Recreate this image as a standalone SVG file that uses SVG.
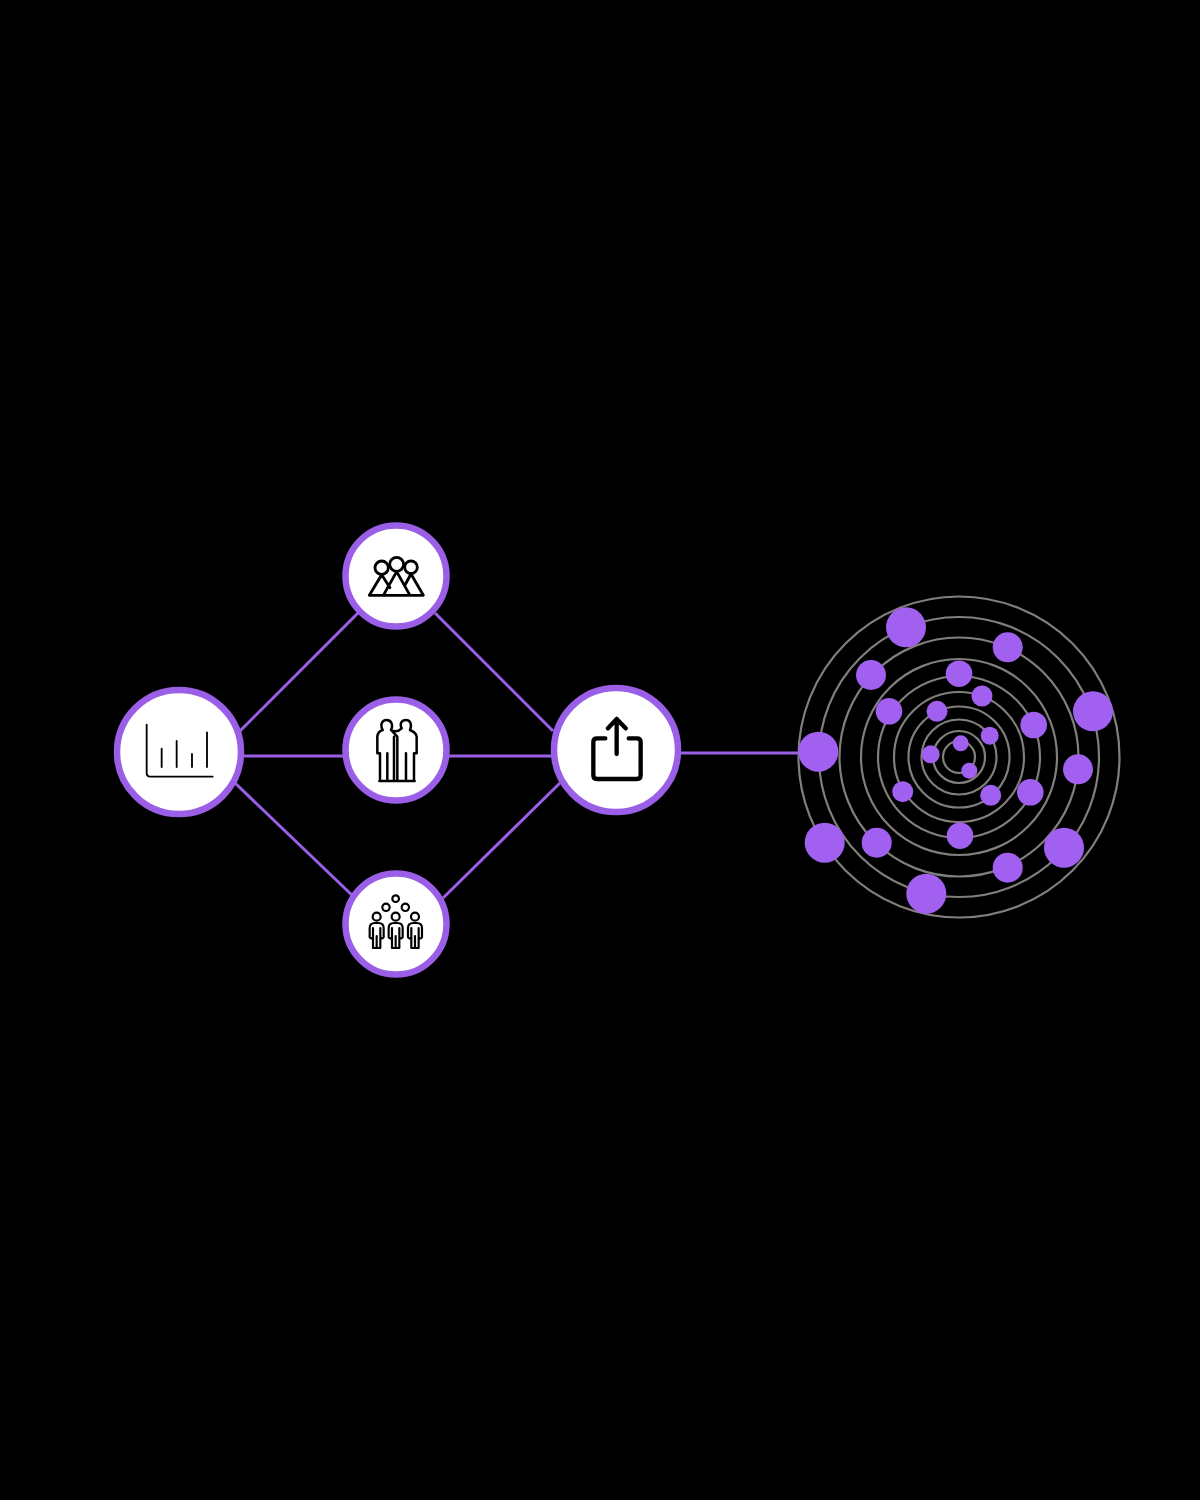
<svg xmlns="http://www.w3.org/2000/svg" xmlns:xlink="http://www.w3.org/1999/xlink" width="1200" height="1500" viewBox="0 0 1200 1500">
<style>
.link{stroke:#9a5fe6;stroke-width:3;fill:none}
.disc{fill:#fff;stroke:#9a5fe6;stroke-width:6.5}
.ico{fill:none;stroke:#000;stroke-linecap:round;stroke-linejoin:round}
.ring{fill:none;stroke:#807f7b;stroke-width:2.2}
.dot{fill:#a160f0}
</style>
<defs>
<g id="person" class="ico" stroke-width="6.5"><circle cx="0" cy="146" r="12"/><path d="M-21,208V180Q-21,165-5,165H5Q21,165 21,180V208Q17,215 11,208V180M-21,208Q-17,215-11,208V180V240H11V180M0,204V240"/></g>
</defs>
<rect width="1200" height="1500" fill="#000"/>
<g id="connectors">
<path class="link" d="M240,731L358,613M435,613L553,731M243,756H345M448,756H553M235,783L355,898M443,898L560,783M680,753H800"/>
</g>
<g id="radar">
<circle class="ring" cx="959" cy="757" r="16"/><circle class="ring" cx="959" cy="757" r="26"/><circle class="ring" cx="959" cy="757" r="37.5"/><circle class="ring" cx="959" cy="757" r="50.5"/><circle class="ring" cx="959" cy="757" r="65"/><circle class="ring" cx="959" cy="757" r="81"/><circle class="ring" cx="959" cy="757" r="98"/><circle class="ring" cx="959" cy="757" r="119.5"/><circle class="ring" cx="959" cy="757" r="140"/><circle class="ring" cx="959" cy="757" r="160.5"/>
<circle class="dot" cx="906" cy="627.3" r="20"/><circle class="dot" cx="1007.7" cy="647.3" r="15"/><circle class="dot" cx="871" cy="675" r="15"/><circle class="dot" cx="959" cy="673.7" r="13.3"/><circle class="dot" cx="982" cy="696" r="10.5"/><circle class="dot" cx="889" cy="711.3" r="13.3"/><circle class="dot" cx="937" cy="711.3" r="10.5"/><circle class="dot" cx="1093" cy="711.3" r="20"/><circle class="dot" cx="1033.7" cy="725" r="13.3"/><circle class="dot" cx="989.7" cy="735.7" r="9"/><circle class="dot" cx="960.7" cy="743.3" r="8"/><circle class="dot" cx="930.7" cy="754.3" r="9"/><circle class="dot" cx="818.3" cy="751.7" r="20"/><circle class="dot" cx="969.3" cy="770.7" r="8"/><circle class="dot" cx="1078" cy="769.3" r="15"/><circle class="dot" cx="902.7" cy="791.7" r="10.5"/><circle class="dot" cx="990.7" cy="795.3" r="10.5"/><circle class="dot" cx="1030.3" cy="792.3" r="13.3"/><circle class="dot" cx="960" cy="835.7" r="13.3"/><circle class="dot" cx="876.7" cy="842.7" r="15"/><circle class="dot" cx="824.7" cy="842.7" r="20"/><circle class="dot" cx="1064" cy="847.7" r="20"/><circle class="dot" cx="1007.7" cy="867.7" r="15"/><circle class="dot" cx="926.3" cy="893.7" r="20"/>
</g>
<g id="node-chart">
<circle class="disc" cx="179" cy="752" r="62"/>
<g transform="translate(110,682) scale(.3333)"><path class="ico" stroke-width="5.5" d="M110,128V272Q110,284 122,284H308M155,200V255M200,177V255M246,216V255M291,151V255"/></g>
</g>
<g id="node-group-a">
<circle class="disc" cx="396" cy="576" r="50.5"/>
<g transform="translate(340,520) scale(.3333)"><g class="ico" stroke-width="8.5"><circle cx="125" cy="143" r="20"/><circle cx="170" cy="133" r="21"/><circle cx="213" cy="142" r="19"/><path d="M88,226H250M125,164L88,226M125,164L150,203M170,155L130,226M170,155L210,226M213,162L250,226M213,162L195,195"/></g></g>
</g>
<g id="node-group-b">
<circle class="disc" cx="396" cy="750" r="50.5"/>
<g transform="translate(340,695) scale(.3333)"><path class="ico" stroke-width="7.5" d="M118,258H224M120,258V175H112V125Q113,110 128,105C120,90 125,75 140,75C155,75 160,92 153,105L172,125V258M162,258V125M153,105Q170,115 185,100C178,85 185,75 198,75C212,75 216,90 210,105Q228,112 230,125V175H222V258M142,258V175M198,258V175"/></g>
</g>
<g id="node-group-c">
<circle class="disc" cx="396" cy="924" r="50.5"/>
<g transform="translate(340,868) scale(.3333)">
<g class="ico" stroke-width="6.5"><circle cx="167" cy="92" r="10"/><circle cx="138" cy="118" r="11"/><circle cx="196" cy="118" r="11"/></g>
<use href="#person" x="110"/><use href="#person" x="167"/><use href="#person" x="225"/>
</g>
</g>
<g id="node-share">
<circle class="disc" cx="616" cy="750" r="62"/>
<g transform="translate(547,680) scale(.3333)"><path class="ico" stroke-width="13" d="M175,175H150Q139,175 139,186V285Q139,297 150,297H270Q281,297 281,285V186Q281,175 270,175H245M209,222V117M183,145L209,117L236,145"/></g>
</g>
</svg>
